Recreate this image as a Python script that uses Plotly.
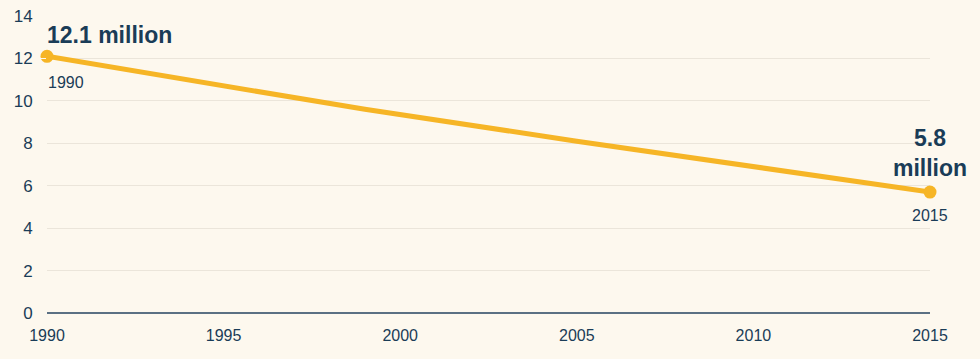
import plotly.graph_objects as go

years = [1990, 1995, 1999, 2005, 2010, 2015]
values = [12.1, 10.7, 9.6, 8.1, 6.9, 5.7]
y_ticks = [0, 2, 4, 6, 8, 10, 12, 14]
x_ticks = [1990, 1995, 2000, 2005, 2010, 2015]
start_label = "12.1 million"
end_label = "5.8<br>million"

BG = "#fdf8ee"
LINE = "#f6b526"
TEXT = "#1a3c57"
GRID = "#ebe5da"
ZERO = "#5b7083"
FONT = "Liberation Sans, Arial, sans-serif"

fig = go.Figure()
fig.add_trace(go.Scatter(
    x=years, y=values, mode="lines",
    line=dict(color=LINE, width=5),
    hoverinfo="skip", showlegend=False, cliponaxis=False,
))
fig.add_trace(go.Scatter(
    x=[years[0], years[-1]], y=[values[0], values[-1]], mode="markers",
    marker=dict(color=LINE, size=13),
    hoverinfo="skip", showlegend=False, cliponaxis=False,
))

fig.add_annotation(x=years[0], y=values[0], text=f"<b>{start_label}</b>",
                   xanchor="left", yanchor="middle", yshift=21, xshift=-2,
                   showarrow=False, font=dict(size=23, color=TEXT, family=FONT))
fig.add_annotation(x=years[0], y=values[0], text=str(years[0]),
                   xanchor="left", yanchor="middle", yshift=-26, xshift=-1,
                   showarrow=False, font=dict(size=16, color=TEXT, family=FONT))
fig.add_annotation(x=years[-1], y=values[-1], text=f"<b>{end_label}</b>",
                   xanchor="center", yanchor="bottom", yshift=9,
                   showarrow=False, font=dict(size=23, color=TEXT, family=FONT))
fig.add_annotation(x=years[-1], y=values[-1], text=str(years[-1]),
                   xanchor="center", yanchor="middle", yshift=-23,
                   showarrow=False, font=dict(size=16, color=TEXT, family=FONT))

fig.update_layout(
    width=980, height=359,
    margin=dict(l=47, r=50, t=16, b=46, autoexpand=False),
    paper_bgcolor=BG, plot_bgcolor=BG,
    font=dict(family=FONT, color=TEXT, size=16),
    xaxis=dict(range=[1990, 2015], tickvals=x_ticks, showgrid=False,
               zeroline=False, showline=False, ticks="outside", ticklen=8,
               tickcolor=BG, tickfont=dict(size=16, color=TEXT), automargin=False),
    yaxis=dict(range=[0, 14], tickvals=y_ticks, showgrid=True, gridcolor=GRID,
               gridwidth=1, zeroline=True, zerolinecolor=ZERO, zerolinewidth=2,
               showline=False, ticks="outside", ticklen=10, tickcolor=BG,
               tickfont=dict(size=17, color=TEXT), automargin=False),
)

fig.write_html(
    "out.html",
    config={"displayModeBar": False},
    post_script="document.body.style.margin='0';document.body.style.background='%s';" % BG,
)
